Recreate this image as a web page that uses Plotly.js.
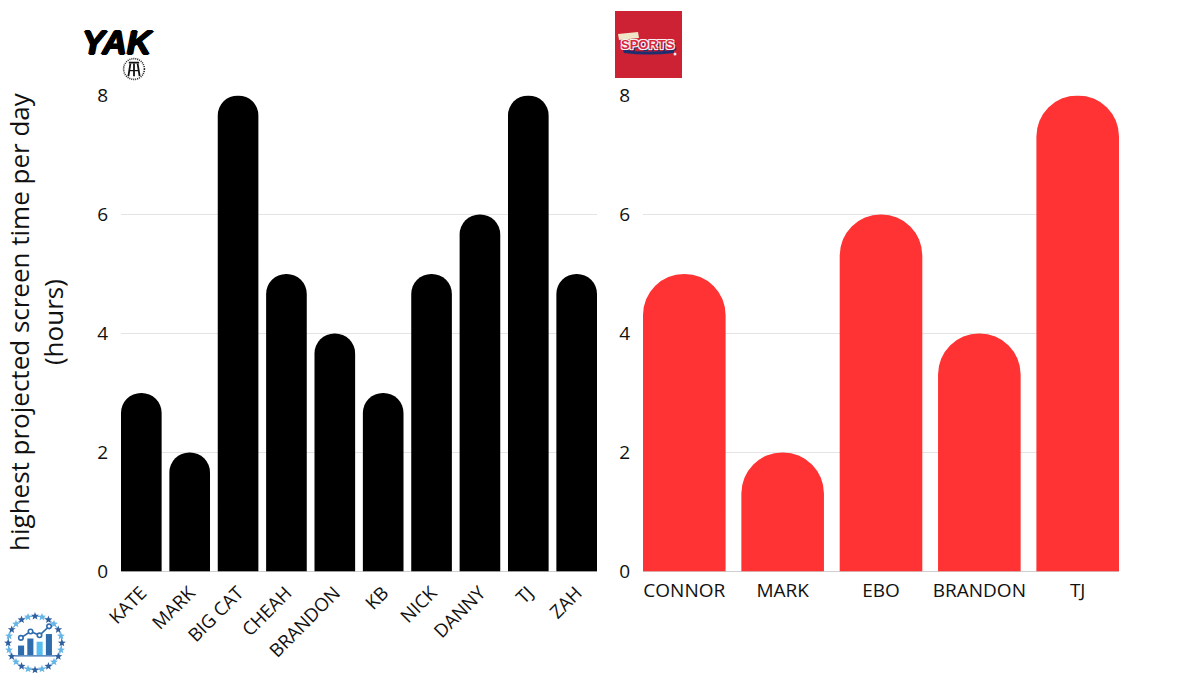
<!DOCTYPE html>
<html>
<head>
<meta charset="utf-8">
<script src="https://cdn.plot.ly/plotly-3.0.1.min.js"></script>
<style>html,body{margin:0;padding:0;background:#fff}#chart{width:1200px;height:675px}</style>
</head>
<body>
<div id="chart"></div>
<script>
const yakCategories = ["KATE","MARK","BIG CAT","CHEAH","BRANDON","KB","NICK","DANNY","TJ","ZAH"];
const yakHours = [3,2,8,5,4,3,5,6,8,5];
const sportsCategories = ["CONNOR","MARK","EBO","BRANDON","TJ"];
const sportsHours = [5,2,6,4,8];
const yTicks = [0,2,4,6,8];
const yTitle = "highest projected screen time per day<br>(hours)";

const W = 1200, H = 675;
const FONT = "Open Sans, Noto Sans, sans-serif";

const stoolSvg = `<svg xmlns="http://www.w3.org/2000/svg" width="120" height="120" viewBox="0 0 120 120">
<circle cx="60" cy="60" r="52" fill="#fff" stroke="#222" stroke-width="8" stroke-dasharray="5 5"/>
<rect x="34" y="24" width="52" height="9" rx="3" fill="#111"/>
<path d="M42 33 L32 96 M60 33 L60 96 M78 33 L88 96" stroke="#111" stroke-width="9" fill="none"/>
<path d="M38 68 H82" stroke="#111" stroke-width="6"/></svg>`;

function star(cx, cy, r, fill) {
  let p = [];
  for (let k = 0; k < 10; k++) {
    const a = -Math.PI / 2 + k * Math.PI / 5, q = k % 2 ? r * 0.42 : r;
    p.push((cx + q * Math.cos(a)).toFixed(1) + "," + (cy + q * Math.sin(a)).toFixed(1));
  }
  return `<polygon points="${p.join(" ")}" fill="${fill}"/>`;
}
let stars = "";
for (let i = 0; i < 24; i++) {
  const a = i * Math.PI / 12;
  stars += star(100 + 84 * Math.cos(a), 100 + 84 * Math.sin(a), 13, i % 2 ? "#66b6e6" : "#2f5f9e");
}
const badgeSvg = `<svg xmlns="http://www.w3.org/2000/svg" width="200" height="200" viewBox="0 0 200 200">
<circle cx="100" cy="100" r="84" fill="none" stroke="#5fa8d8" stroke-width="3"/>${stars}
<rect x="47" y="108" width="19" height="30" fill="#2f6cae"/>
<rect x="76" y="86" width="19" height="52" fill="#2f6cae"/>
<rect x="105" y="96" width="19" height="42" fill="#55bdf2"/>
<rect x="134" y="72" width="19" height="66" fill="#2f6cae"/>
<path d="M36 140 H164" stroke="#2f6cae" stroke-width="4"/>
<path d="M56 84 L86 64 L114 76 L144 48" stroke="#2f6cae" stroke-width="5" fill="none"/>
<g fill="#fff" stroke="#2f6cae" stroke-width="5"><circle cx="56" cy="84" r="7"/><circle cx="86" cy="64" r="7"/><circle cx="114" cy="76" r="7"/><circle cx="144" cy="48" r="7"/></g></svg>`;

const sportsDecorSvg = `<svg xmlns="http://www.w3.org/2000/svg" width="67" height="67" viewBox="0 0 67 67">
<path d="M3 23 L23 21 L24 27 L4 29 Z" fill="#efe6c8"/>
<path d="M8 39 Q33 42 59 39 L59 42 Q33 45 9 42 Z" fill="#1d2f6f"/>
<circle cx="60" cy="43" r="1.5" fill="#eee"/></svg>`;

const uri = s => "data:image/svg+xml;charset=utf-8," + encodeURIComponent(s);
const img = (s, x0, y0, w, h) => ({source: uri(s), xref: "paper", yref: "paper", x: x0 / W, y: 1 - y0 / H, sizex: w / W, sizey: h / H, xanchor: "left", yanchor: "top", sizing: "stretch", layer: "above"});

const yAxisBase = {
  range: [0, 8], tickvals: yTicks, ticks: "", showline: false,
  showgrid: true, gridcolor: "#e4e4e4", gridwidth: 1,
  zeroline: true, zerolinecolor: "#cfcfcf", zerolinewidth: 1,
  tickfont: {family: FONT, size: 19, color: "#111"}, ticklabelstandoff: 12
};
const xAxisBase = {ticks: "", showline: false, showgrid: false, zeroline: false, type: "category"};

const traces = [
  {type: "bar", x: yakCategories, y: yakHours, xaxis: "x", yaxis: "y", marker: {color: "#000000", cornerradius: "50%"}, width: 0.84, hoverinfo: "x+y"},
  {type: "bar", x: sportsCategories, y: sportsHours, xaxis: "x2", yaxis: "y2", marker: {color: "#ff3333", cornerradius: "50%"}, width: 0.84, hoverinfo: "x+y"}
];

const layout = {
  width: W, height: H, showlegend: false, paper_bgcolor: "#fff", plot_bgcolor: "#fff",
  margin: {l: 0, r: 0, t: 0, b: 0}, bargap: 0.16, hovermode: "closest",
  font: {family: FONT, color: "#111"},
  xaxis: {...xAxisBase, domain: [121 / W, 597 / W], anchor: "y", range: [-0.42, 9.42], tickangle: -45,
    ticklabelstandoff: 6, tickfont: {family: FONT, size: 18.5, color: "#111"}},
  yaxis: {...yAxisBase, domain: [1 - 571.5 / H, 1 - 95.5 / H], anchor: "x"},
  xaxis2: {...xAxisBase, domain: [643 / W, 1119 / W], anchor: "y2", range: [-0.42, 4.42], tickangle: 0,
    ticklabelstandoff: 5, tickfont: {family: FONT, size: 19, color: "#111"}},
  yaxis2: {...yAxisBase, domain: [1 - 571.5 / H, 1 - 95.5 / H], anchor: "x2"},
  shapes: [
    {type: "rect", xref: "paper", yref: "paper", x0: 615 / W, x1: 682 / W, y0: 1 - 78 / H, y1: 1 - 11 / H, fillcolor: "#cc2233", line: {width: 0}, layer: "below"}
  ],
  annotations: [
    {xref: "paper", yref: "paper", x: 36 / W, y: 1 - 322 / H, xanchor: "center", yanchor: "middle", text: yTitle, textangle: -90, showarrow: false, align: "center",
      font: {family: FONT, size: 26, color: "#111"}},
    {xref: "paper", yref: "paper", x: 118 / W, y: 1 - 42 / H, xanchor: "center", yanchor: "middle", text: "YAK", showarrow: false,
      font: {family: "Liberation Sans Narrow, Liberation Sans", size: 34, color: "#000", weight: 700, style: "italic", shadow: "1px 0 0 #000, -1px 0 0 #000, 0 1px 0 #000, 0 -1px 0 #000"}},
    {xref: "paper", yref: "paper", x: 648 / W, y: 1 - 44 / H, xanchor: "center", yanchor: "middle", text: "SPORTS", showarrow: false,
      font: {family: "Liberation Sans Narrow, Liberation Sans", size: 13, color: "#d8263c", weight: 700, shadow: "1px 1px 0 #f4f0f4, -1px -1px 0 #f4f0f4, 1px -1px 0 #f4f0f4, -1px 1px 0 #f4f0f4, 2px 2px 0 #1d2f6f"}}
  ],
  images: [img(stoolSvg, 122, 57, 24, 24), img(badgeSvg, 3, 611, 64, 64), img(sportsDecorSvg, 615, 11, 67, 67)]
};

Plotly.newPlot("chart", traces, layout, {displayModeBar: false, responsive: false});
</script>
</body>
</html>
